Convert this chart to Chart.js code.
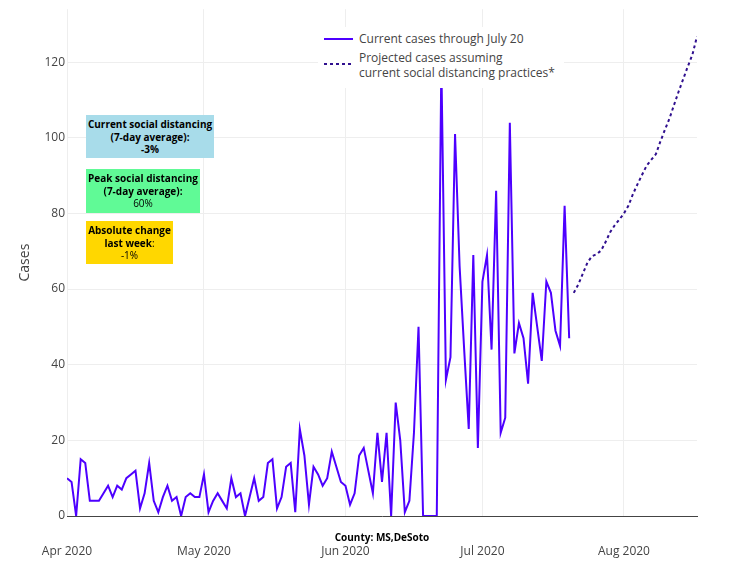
<!DOCTYPE html>
<html>
<head>
<meta charset="utf-8">
<script src="https://cdn.jsdelivr.net/npm/chart.js@4.4.1/dist/chart.umd.min.js"></script>
<style>
  html, body { margin:0; padding:0; background:#fff; }
  #wrap { position:relative; width:745px; height:580px; font-family:"Open Sans", sans-serif; }
  canvas { position:absolute; left:0; top:0; }
  .ov { position:absolute; }
  .box { position:absolute; text-align:center; font-size:10px; line-height:12.7px; color:#000; box-sizing:border-box; padding-top:3px; }
  .b { font-weight:700; }
  #legend { position:absolute; left:318px; top:27px; width:246px; height:61px; background:#fff; color:#444; font-size:12px; }
  #legend .t { position:absolute; white-space:nowrap; line-height:16px; }
</style>
</head>
<body>
<div id="wrap">
  <canvas id="c" width="745" height="580"></canvas>
  <div id="legend">
    <svg class="ov" style="left:0;top:0" width="60" height="61">
      <line x1="6" y1="12" x2="35" y2="12" stroke="#4d00ff" stroke-width="2"/>
      <line x1="6" y1="37" x2="35" y2="37" stroke="#30108f" stroke-width="2" stroke-dasharray="3,3"/>
    </svg>
    <div class="t" style="left:41px;top:4px">Current cases through July 20</div>
    <div class="t" style="left:41px;top:23px">Projected cases assuming</div>
    <div class="t" style="left:41px;top:38px">current social distancing practices*</div>
  </div>
  <div class="box" style="left:86px;top:115px;width:128px;height:43px;background:#a8dcea">
    <span class="b">Current social distancing<br>(7-day average):<br>-3%</span>
  </div>
  <div class="box" style="left:86px;top:169px;width:114px;height:44px;background:#60fa96">
    <span class="b">Peak social distancing<br>(7-day average):</span><br>60%
  </div>
  <div class="box" style="left:86px;top:221px;width:87px;height:43px;background:#ffd700">
    <span class="b">Absolute change<br>last week</span>:<br>-1%
  </div>
  <div class="ov b" style="left:282px;width:200px;top:529px;text-align:center;font-size:10px;line-height:16px;color:#000">County: MS,DeSoto</div>
</div>
<script>
// Day 0 = Apr 1 2020
const tickDays = [0, 30, 61, 91, 122];
const tickLabels = ['Apr 2020', 'May 2020', 'Jun 2020', 'Jul 2020', 'Aug 2020'];
const yTicks = [0, 20, 40, 60, 80, 100, 120];

// Daily cases Apr 1 .. Jul 20
const currentCases = [
  10, 9, 0, 15, 14, 4, 4, 4, 6, 8, 5, 8, 7, 10, 11, 12, 2, 6, 14, 4, 1, 5, 8, 4, 5, 0, 5, 6, 5, 5,
  11, 1, 4, 6, 4, 2, 10, 5, 6, 0, 5, 10, 4, 5, 14, 15, 2, 5, 13, 14, 1, 23, 16, 3, 13, 11, 8, 10, 17, 13, 9,
  8, 3, 6, 16, 18, 12, 6, 22, 9, 22, 0, 30, 20, 1, 4, 22, 50, 0, 0, 0, 0, 120, 36, 42, 101, 66, 44, 23, 69, 18,
  62, 69, 44, 86, 22, 26, 104, 43, 51, 47, 35, 59, 50, 41, 62, 59, 49, 45, 82, 47
];
const currentStartDay = 0;

// Projected cases Jul 21 .. Aug 17
const projectedCases = [
  59, 61.2, 64.1, 67, 68.7, 69.2, 70.2, 72.5, 75.1, 76.9, 78.4,
  80, 82.1, 85.2, 87.8, 90.3, 92.7, 94.2, 95.7, 99.1, 102.2, 105.2, 108.8, 112.3, 115.6, 118.9, 122, 126.8
];
const projectedStartDay = 111;

const xMin = 0, xMax = 138, yMin = 0, yMax = 134;

const curPts = currentCases.map((v, i) => ({ x: currentStartDay + i, y: v }));
const projPts = projectedCases.map((v, i) => ({ x: projectedStartDay + i, y: v }));

new Chart(document.getElementById('c'), {
  type: 'line',
  data: {
    datasets: [
      { label: 'Current cases through July 20', data: curPts, borderColor: '#4d00ff', borderWidth: 2, pointRadius: 0, tension: 0, fill: false },
      { label: 'Projected cases assuming current social distancing practices*', data: projPts, borderColor: '#30108f', borderWidth: 2, borderDash: [3, 3], pointRadius: 0, tension: 0, fill: false }
    ]
  },
  options: {
    responsive: false,
    animation: false,
    layout: { padding: { left: 0, right: 48, top: 8, bottom: 0 } },
    plugins: { legend: { display: false }, tooltip: { enabled: false } },
    scales: {
      x: {
        type: 'linear', min: xMin, max: xMax,
        afterBuildTicks: (s) => { s.ticks = tickDays.map(v => ({ value: v })); },
        afterFit: (s) => { s.height = 64; },
        ticks: {
          autoSkip: false, maxRotation: 0, padding: 28, color: '#444',
          font: { family: 'Open Sans', size: 12 },
          callback: (v) => { const i = tickDays.indexOf(v); return i >= 0 ? tickLabels[i] : ''; }
        },
        grid: { color: '#eeeeee', lineWidth: 1, drawTicks: false },
        border: { display: true, color: '#444', width: 1 }
      },
      y: {
        min: yMin, max: yMax,
        afterBuildTicks: (s) => { s.ticks = yTicks.map(v => ({ value: v })); },
        afterFit: (s) => { s.width = 67; },
        ticks: { padding: 2, color: '#444', font: { family: 'Open Sans', size: 12 } },
        grid: { color: '#eeeeee', lineWidth: 1, drawTicks: false },
        border: { display: false },
        title: { display: true, text: 'Cases', color: '#444', font: { family: 'Open Sans', size: 14 }, padding: { top: 16.6, bottom: 0 } }
      }
    }
  }
});
</script>
</body>
</html>
